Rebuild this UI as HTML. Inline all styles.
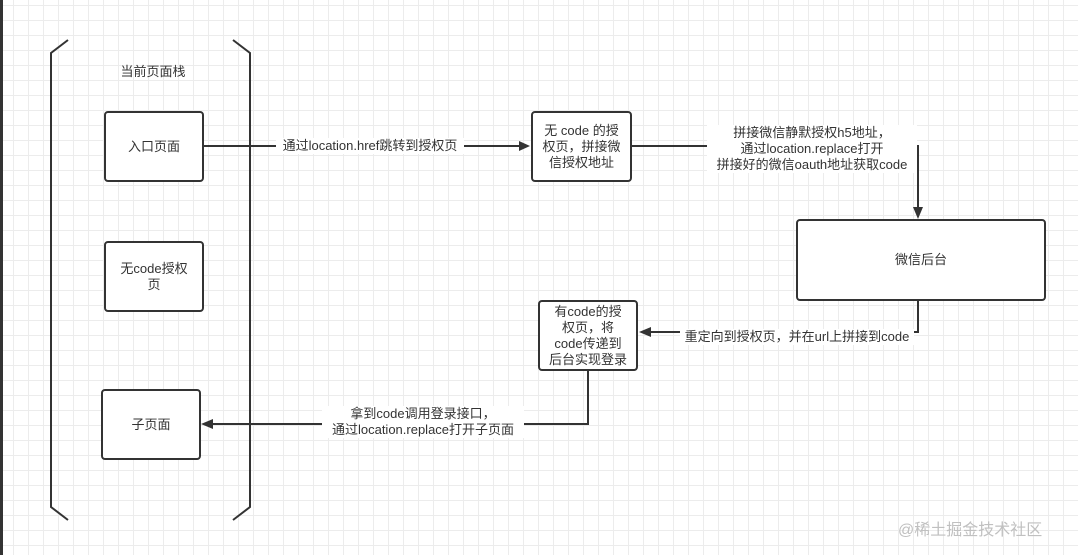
<!DOCTYPE html>
<html><head><meta charset="utf-8"><style>
html,body{margin:0;padding:0}
body{width:1078px;height:555px;overflow:hidden;background-color:#fff;
background-image:linear-gradient(#ececec 1px,transparent 1px),linear-gradient(90deg,#ececec 1px,transparent 1px);
background-size:15px 15px;background-position:-2px 5px;position:relative;
font-family:"Liberation Sans","Noto Sans CJK SC",sans-serif;}
.b{position:absolute;border:2px solid #333;border-radius:4px;background:#fff;box-sizing:border-box;
display:flex;align-items:center;justify-content:center;text-align:center;font-size:13px;color:#333;line-height:16px}
.t{position:absolute;font-size:13px;color:#333;text-align:center;line-height:16px;background:#fff;white-space:nowrap}
</style></head><body>
<div style="position:absolute;left:0;top:0;width:3px;height:555px;background:#333"></div>
<svg width="1078" height="555" style="position:absolute;left:0;top:0">
<g stroke="#333" stroke-width="2" fill="none">
<polyline points="68,40 51,53 51,507 68,520"/>
<polyline points="233,40 250,53 250,507 233,520"/>
<line x1="204" y1="146" x2="522" y2="146"/>
<polyline points="631,146 918,146 918,210"/>
<polyline points="918,300 918,332 648,332"/>
<polyline points="588,370 588,424 210,424"/>
</g>
<g fill="#333">
<polygon points="530,146 519,141 519,151"/>
<polygon points="918,219 913,207 923,207"/>
<polygon points="639,332 651,327 651,337"/>
<polygon points="201,424 213,419 213,429"/>
</g>
</svg>
<div class="t" style="left:103px;top:64px;width:100px;background:none">当前页面栈</div>
<div class="b" style="left:104px;top:111px;width:100px;height:71px">入口页面</div>
<div class="b" style="left:104px;top:241px;width:100px;height:71px">无code授权<br>页</div>
<div class="b" style="left:101px;top:389px;width:100px;height:71px">子页面</div>
<div class="t" style="left:276px;top:138px;width:188px">通过location.href跳转到授权页</div>
<div class="b" style="left:531px;top:111px;width:101px;height:71px">无 code 的授<br>权页，拼接微<br>信授权地址</div>
<div class="t" style="left:707px;top:125px;width:210px">拼接微信静默授权h5地址，<br>通过location.replace打开<br>拼接好的微信oauth地址获取code</div>
<div class="b" style="left:796px;top:219px;width:250px;height:82px">微信后台</div>
<div class="t" style="left:680px;top:329px;width:234px">重定向到授权页，并在url上拼接到code</div>
<div class="b" style="left:538px;top:300px;width:100px;height:71px">有code的授<br>权页，将<br>code传递到<br>后台实现登录</div>
<div class="t" style="left:322px;top:406px;width:202px">拿到code调用登录接口，<br>通过location.replace打开子页面</div>
<div style="position:absolute;left:898px;top:516px;font-size:16px;color:#c0c0c0">@稀土掘金技术社区</div>
</body></html>
